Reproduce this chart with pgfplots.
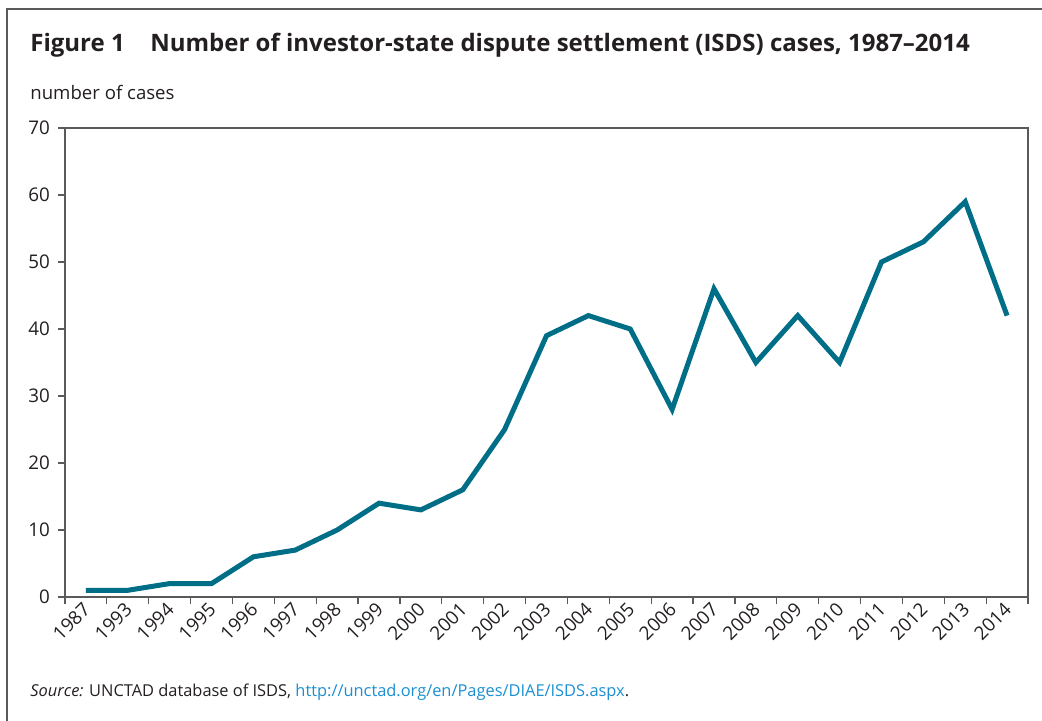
\documentclass[border=0pt]{standalone}
\usepackage{pgfplots}
\pgfplotsset{compat=1.18}
\usepackage{fontspec}
\setmainfont{Open Sans}
\definecolor{lineteal}{HTML}{006E87}
\definecolor{txt}{HTML}{231F20}
\definecolor{axgray}{HTML}{5A5A5A}
\definecolor{linkblue}{HTML}{1B8FD2}
\begin{document}
\begin{tikzpicture}[x=0.5bp,y=0.5bp]
\useasboundingbox (0,0) rectangle (1042,721);
\draw[axgray,line width=0.6bp] (7,0) -- (7,712) -- (1042,712);
\node[anchor=base west,inner sep=0,text=txt] at (30,669) {\fontsize{12bp}{14bp}\selectfont\bfseries Figure 1};
\node[anchor=base west,inner sep=0,text=txt] at (150,669) {\fontsize{12bp}{14bp}\selectfont\bfseries Number of investor-state dispute settlement (ISDS) cases, 1987--2014};
\node[anchor=base west,inner sep=0,text=txt] at (30,621) {\fontsize{9.3bp}{11bp}\selectfont number of cases};
\node[anchor=base west,inner sep=0,text=txt] at (30,24) {\fontsize{8.2bp}{10bp}\selectfont\itshape Source:\upshape{} UNCTAD database of ISDS, \textcolor{linkblue}{http://unctad.org/en/Pages/DIAE/ISDS.aspx}.};
\begin{axis}[
  at={(32.5bp,62bp)}, anchor=south west,
  scale only axis, width=481.5bp, height=234.5bp,
  xmin=-0.5, xmax=22.5, ymin=0, ymax=70,
  axis line style={axgray,line width=0.6bp},
  xtick={-0.5,0.5,...,22.5},
  x tick label as interval,
  xticklabels={1987,1993,1994,1995,1996,1997,1998,1999,2000,2001,2002,2003,2004,2005,2006,2007,2008,2009,2010,2011,2012,2013,2014},
  ytick={0,10,...,70},
  tick align=outside,
  major tick length=3.5bp,
  tick style={axgray,line width=0.6bp},
  xtick pos=bottom, ytick pos=left,
  /pgf/number format/assume math mode=true,
  tick label style={font=\fontsize{9.4bp}{11bp}\selectfont, text=txt},
  xticklabel style={rotate=45, anchor=east, xshift=3bp, yshift=-1bp},
  yticklabel style={xshift=-0.5bp},
]
\addplot[lineteal, line width=2.5bp, mark=none] coordinates {
(0,1) (1,1) (2,2) (3,2) (4,6) (5,7) (6,10) (7,14) (8,13) (9,16) (10,25)
(11,39) (12,42) (13,40) (14,28) (15,46) (16,35) (17,42) (18,35) (19,50)
(20,53) (21,59) (22,42)};
\end{axis}
\end{tikzpicture}
\end{document}
